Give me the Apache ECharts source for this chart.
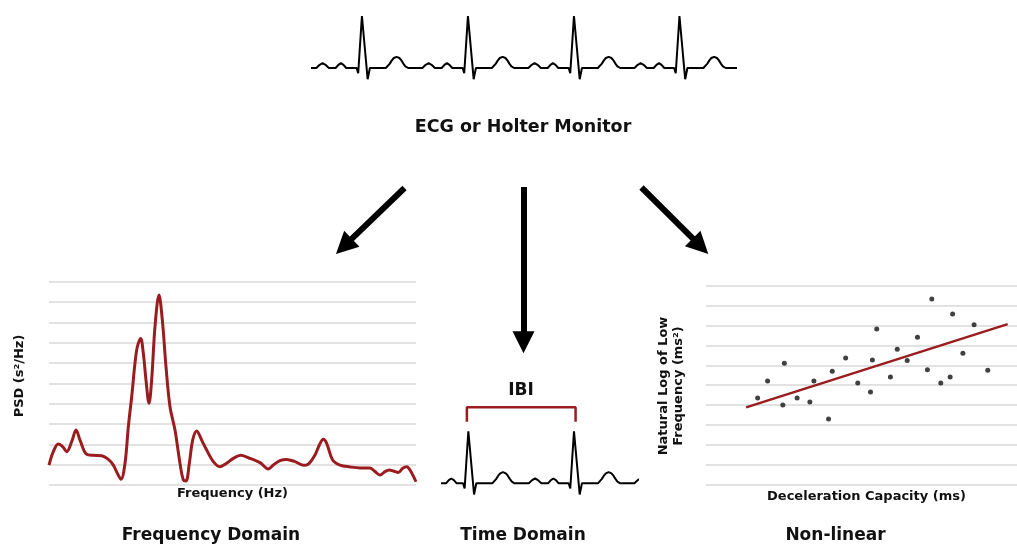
<!DOCTYPE html>
<html><head><meta charset="utf-8">
<script src="https://cdn.jsdelivr.net/npm/echarts@6/dist/echarts.min.js"></script>
<style>html,body{margin:0;padding:0;background:#fff}#c{width:1017px;height:546px}</style>
</head><body><div id="c"></div>
<script>
// ---- ECG beat template (ms relative to R peak, mV) ----
const beatTemplateMs = [-40, -28, 0, 43, 60,
  180, 195, 210, 225, 240, 261, 282, 297, 312, 327, 348,
  455, 468, 480, 492, 502, 512, 524, 536, 549,
  600, 611, 621, 631, 640, 649, 659, 669, 680];
const beatTemplateMv = [0, -0.13, 1.3, -0.28, 0,
  0, 0.04, 0.11, 0.19, 0.25, 0.28, 0.25, 0.19, 0.11, 0.04, 0,
  0, 0.03, 0.08, 0.115, 0.12, 0.115, 0.08, 0.03, 0,
  0, 0.03, 0.08, 0.115, 0.12, 0.115, 0.08, 0.03, 0];
// R-peak times (ms)
const monitorBeatTimes = [-426, 372, 1170, 1968, 2762];
const ibiBeatTimes = [-575, 193, 988];
// IBI bracket
const ibiBracketMs = [182, 182, 1000, 1000];
const ibiBracketMv = [1.54, 1.9, 1.9, 1.54];

// ---- Frequency domain (PSD) ----
const freqHz = [0, 1.18, 2.54, 3.72, 4.81, 6.18, 7.36, 8.45, 10.26, 12.08, 14.35, 16.17, 17.53, 18.62, 19.62,
  20.71, 21.62, 22.53, 23.89, 24.98, 25.70, 26.43, 27.25, 27.97, 28.88, 29.97, 30.88, 31.88, 32.97, 34.33,
  35.69, 36.60, 37.33, 38.24, 39.15, 40.24, 41.60, 42.96, 44.78, 46.59, 48.41, 50.23, 52.22, 54.31, 57.49,
  59.76, 61.13, 62.94, 64.76, 67.03, 69.30, 70.66, 72.48, 73.66, 74.75, 75.66, 77.29, 79.29, 82.02, 84.74,
  87.47, 88.83, 90.19, 91.55, 92.73, 93.82, 95.19, 96.37, 97.46, 98.37, 100];
const psd = [0.98, 1.64, 2.02, 1.89, 1.64, 2.13, 2.70, 2.21, 1.51, 1.46, 1.44, 1.26, 0.98, 0.57, 0.28,
  1.07, 2.87, 4.34, 6.64, 7.21, 6.48, 5.16, 4.02, 5.16, 7.79, 9.34, 8.11, 5.82, 3.85, 2.70,
  1.07, 0.25, 0.20, 1.07, 2.21, 2.66, 2.21, 1.72, 1.15, 0.90, 1.07, 1.31, 1.46, 1.34, 1.10,
  0.79, 0.98, 1.20, 1.26, 1.15, 0.97, 1.03, 1.48, 1.97, 2.25, 2.05, 1.23, 0.98, 0.89, 0.84,
  0.84, 0.66, 0.49, 0.66, 0.74, 0.69, 0.62, 0.82, 0.90, 0.74, 0.16];

// ---- Non-linear ----
const decelCapacity = [16.6, 19.8, 25.2, 24.7, 29.3, 33.4, 34.7, 39.4, 40.6, 44.9, 48.8, 52.9, 53.5,
  54.9, 59.3, 61.5, 64.7, 68.0, 71.2, 72.6, 75.5, 78.5, 79.3, 82.6, 86.2, 90.6];
const lnLowFreq = [4.35, 5.21, 6.10, 4.00, 4.35, 4.15, 5.21, 3.29, 5.70, 6.37, 5.11, 4.66, 6.27,
  7.83, 5.41, 6.81, 6.24, 7.41, 5.78, 9.34, 5.11, 5.41, 8.59, 6.61, 8.05, 5.75];
const fitX = [12.9, 97.0];
const fitY = [3.88, 8.08];

// ---- Flow arrows (overlay, pixel units): [from, to(head centre)] ----
const arrowFrom = [[404.5, 188], [523.5, 187], [641.5, 187.5]];
const arrowTo = [[343.9, 246.4], [523.5, 342.3], [700.5, 246.2]];

// ---- labels ----
const labels = {
  source: 'ECG or Holter Monitor',
  ibi: 'IBI',
  freqX: 'Frequency (Hz)',
  freqY: 'PSD (s²/Hz)',
  nlX: 'Deceleration Capacity (ms)',
  nlY: 'Natural Log of Low\nFrequency (ms²)',
  panels: ['Frequency Domain', 'Time Domain', 'Non-linear']
};

function ecgTrace(beats) {
  const out = [];
  beats.forEach(r => beatTemplateMs.forEach((t, i) => out.push([r + t, beatTemplateMv[i]])));
  return out;
}
const zip = (a, b) => a.map((v, i) => [v, b[i]]);

const RED = '#9a1c1f';
const GRID = '#d9d9d9';
const FONT = 'DejaVu Sans';
const hidden = { show: false };
function hiddenAxis(idx, min, max, extra) {
  return Object.assign({ type: 'value', gridIndex: idx, min: min, max: max,
    axisLine: hidden, axisTick: hidden, axisLabel: hidden, splitLine: hidden }, extra || {});
}
function txt(text, x, y, size, rot) {
  return { type: 'text', x: x, y: y, rotation: rot || 0, z: 10,
    style: { text: text, fill: '#111', font: 'bold ' + size + 'px "' + FONT + '"',
      textAlign: 'center', textVerticalAlign: 'middle', lineHeight: 15 } };
}

const chart = echarts.init(document.getElementById('c'), null, { renderer: 'canvas' });
chart.setOption({
  animation: false,
  backgroundColor: '#fff',
  grid: [
    { left: 312.5, top: 8, width: 422.5, height: 80 },
    { left: 49, top: 281.7, width: 367, height: 203.3 },
    { left: 442.7, top: 383.3, width: 194, height: 120 },
    { left: 706, top: 286, width: 311, height: 198.3 },
    { left: 0, top: 0, width: 1017, height: 546 }
  ],
  xAxis: [
    hiddenAxis(0, 0, 3180),
    hiddenAxis(1, 0, 100),
    hiddenAxis(2, 0, 1460),
    hiddenAxis(3, 0, 100),
    hiddenAxis(4, 0, 1017)
  ],
  yAxis: [
    hiddenAxis(0, -0.5, 1.5),
    hiddenAxis(1, 0, 10, { interval: 1, splitLine: { show: true, lineStyle: { color: GRID, width: 1.5 } } }),
    hiddenAxis(2, -0.5, 2.5),
    hiddenAxis(3, 0, 10, { interval: 1, splitLine: { show: true, lineStyle: { color: GRID, width: 1.5 } } }),
    hiddenAxis(4, 0, 546, { inverse: true })
  ],
  series: [
    { type: 'line', xAxisIndex: 0, yAxisIndex: 0, data: ecgTrace(monitorBeatTimes), showSymbol: false,
      lineStyle: { color: '#000', width: 2 }, clip: true },
    { type: 'line', xAxisIndex: 1, yAxisIndex: 1, data: zip(freqHz, psd), showSymbol: false, smooth: 0.35,
      lineStyle: { color: RED, width: 3 }, clip: true },
    { type: 'line', xAxisIndex: 2, yAxisIndex: 2, data: ecgTrace(ibiBeatTimes), showSymbol: false,
      lineStyle: { color: '#000', width: 2 }, clip: true },
    { type: 'line', xAxisIndex: 2, yAxisIndex: 2, data: zip(ibiBracketMs, ibiBracketMv), showSymbol: false,
      lineStyle: { color: RED, width: 2.5 }, clip: false },
    { type: 'line', xAxisIndex: 3, yAxisIndex: 3, data: zip(fitX, fitY), showSymbol: false,
      lineStyle: { color: RED, width: 2.5 } },
    { type: 'scatter', xAxisIndex: 3, yAxisIndex: 3, data: zip(decelCapacity, lnLowFreq),
      symbolSize: 5, itemStyle: { color: '#111' } },
    { type: 'lines', coordinateSystem: 'cartesian2d', xAxisIndex: 4, yAxisIndex: 4,
      data: arrowFrom.map((f, i) => ({ coords: [f, arrowTo[i]] })),
      symbol: ['none', 'triangle'], symbolSize: 22,
      lineStyle: { color: '#000', width: 6, opacity: 1, curveness: 0 },
      itemStyle: { color: '#000' } }
  ],
  graphic: [
    txt(labels.source, 523, 127, 17.5),
    txt(labels.ibi, 521, 391, 17),
    txt(labels.freqX, 232.5, 494, 13),
    txt(labels.freqY, 20, 376, 13, Math.PI / 2),
    txt(labels.nlX, 866.5, 496.5, 13),
    txt(labels.nlY, 671.5, 386, 13, Math.PI / 2),
    txt(labels.panels[0], 211, 536, 17),
    txt(labels.panels[1], 523, 536, 17),
    txt(labels.panels[2], 835.5, 536, 17)
  ]
});
</script>
</body></html>
